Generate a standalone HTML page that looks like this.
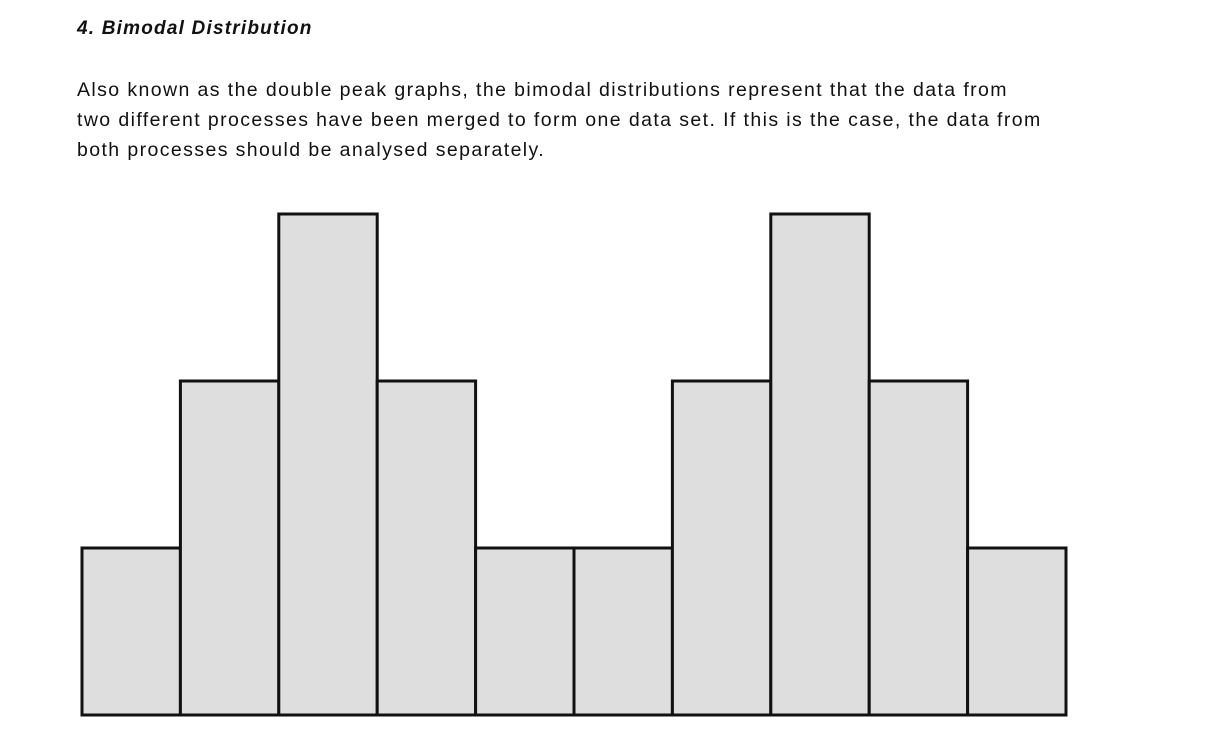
<!DOCTYPE html>
<html><head><meta charset="utf-8"><style>
body{margin:0;width:1215px;height:744px;background:#fff;overflow:hidden;font-family:"Liberation Sans",sans-serif;color:#111;}
h4{position:absolute;left:77px;top:18px;margin:0;font-size:19px;font-weight:bold;font-style:italic;letter-spacing:1.2px;white-space:nowrap;}
p{position:absolute;left:77px;top:75px;margin:0;font-size:19.5px;line-height:30px;width:1100px;letter-spacing:1.4px;white-space:nowrap;}
svg{position:absolute;left:0;top:0;}
</style></head><body>
<h4>4. Bimodal Distribution</h4>
<p>Also known as the double peak graphs, the bimodal distributions represent that the data from<br>two different processes have been merged to form one data set. If this is the case, the data from<br>both processes should be analysed separately.</p>
<svg width="1215" height="744"><g id="bars"></g></svg>
<script>
const categories=["b1","b2","b3","b4","b5","b6","b7","b8","b9","b10"];
const values=[1,2,3,2,1,1,2,3,2,1];
const x0=82,x1=1066,yBase=715,unit=167;
const bw=(x1-x0)/categories.length;
function xs(i){return x0+i*bw;}
function ys(v){return yBase-v*unit;}
const g=document.getElementById('bars');
values.forEach((v,i)=>{
 const r=document.createElementNS('http://www.w3.org/2000/svg','rect');
 r.setAttribute('x',xs(i));r.setAttribute('y',ys(v));
 r.setAttribute('width',bw);r.setAttribute('height',yBase-ys(v));
 r.setAttribute('fill','#dedede');r.setAttribute('stroke','#111');r.setAttribute('stroke-width','3');
 
 
 g.appendChild(r);
});
</script>
</body></html>
